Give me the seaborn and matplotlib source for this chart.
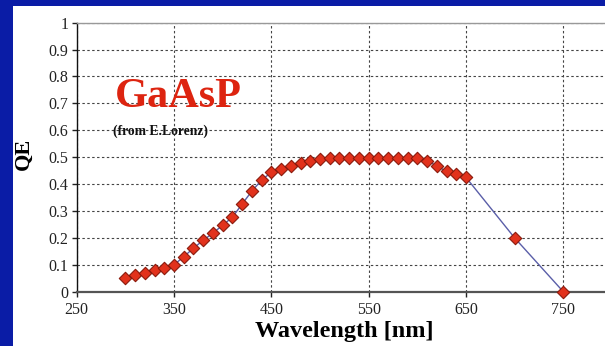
import matplotlib
matplotlib.use("Agg")
import matplotlib.pyplot as plt
from matplotlib.patches import Rectangle
import seaborn as sns
import pandas as pd

# Quantum efficiency of a GaAsP photocathode
wavelength_nm = [300, 310, 320, 330, 340, 350, 360, 370, 380, 390,
                 400, 410, 420, 430, 440, 450, 460, 470, 480, 490,
                 500, 510, 520, 530, 540, 550, 560, 570, 580, 590,
                 600, 610, 620, 630, 640, 650, 700, 750]
qe = [0.051, 0.061, 0.069, 0.082, 0.089, 0.100, 0.130, 0.162, 0.191, 0.218,
      0.247, 0.277, 0.326, 0.374, 0.415, 0.444, 0.455, 0.466, 0.477, 0.485,
      0.495, 0.498, 0.498, 0.498, 0.498, 0.498, 0.498, 0.498, 0.498, 0.498,
      0.497, 0.486, 0.468, 0.447, 0.437, 0.425, 0.200, 0.000]

x_ticks = [250, 350, 450, 550, 650, 750]
y_ticks = [0, 0.1, 0.2, 0.3, 0.4, 0.5, 0.6, 0.7, 0.8, 0.9, 1]
y_tick_labels = ["0", "0.1", "0.2", "0.3", "0.4", "0.5", "0.6", "0.7", "0.8", "0.9", "1"]

df = pd.DataFrame({"Wavelength": wavelength_nm, "QE": qe})

sns.set_theme(style="white")
plt.rcParams["font.family"] = ["Liberation Serif", "DejaVu Serif"]

W, H = 605, 346
fig = plt.figure(figsize=(W / 100, H / 100), dpi=100)
fig.patch.set_facecolor("#0a1ca6")
fig.patches.append(Rectangle((13 / W, 0), 1, (H - 6) / H, transform=fig.transFigure,
                             facecolor="white", edgecolor="none", zorder=-5))

ax_left, ax_right = 76.7, 605.0
ax_top, ax_bottom = 22.7, 291.7
ax = fig.add_axes([ax_left / W, (H - ax_bottom) / H,
                   (ax_right - ax_left) / W, (ax_bottom - ax_top) / H])
ax.set_facecolor("white")

sns.lineplot(data=df, x="Wavelength", y="QE", ax=ax, color="#5a5ea8",
             linewidth=1.0, zorder=3)
sns.scatterplot(data=df, x="Wavelength", y="QE", ax=ax, marker="D", s=40,
                color="#e2321c", edgecolor="#8a1a0c", linewidth=0.8, zorder=4,
                clip_on=False)

px_per_unit = (563.3 - 76.7) / 500.0
ax.set_xlim(250, 250 + (ax_right - ax_left) / px_per_unit)
ax.set_ylim(0, 1)
ax.set_xticks(x_ticks)
ax.set_yticks(y_ticks)
ax.set_yticklabels(y_tick_labels)

ax.grid(True, color="#444444", linestyle=(0, (2.2, 2.2)), linewidth=0.8)
ax.set_axisbelow(True)

ax.spines["right"].set_visible(False)
ax.spines["left"].set_color("#111111")
ax.spines["left"].set_linewidth(1.0)
ax.spines["bottom"].set_color("#555555")
ax.spines["bottom"].set_linewidth(1.6)
ax.spines["top"].set_color("#999999")
ax.spines["top"].set_linewidth(1.0)

ax.tick_params(axis="both", which="major", direction="out", length=3.5, width=1,
               colors="#222222", labelsize=11.5)
ax.tick_params(axis="y", pad=2.5)
ax.tick_params(axis="x", pad=4)
ax.tick_params(left=True, bottom=True)

ax.set_xlabel("Wavelength [nm]", fontsize=17.5, fontweight="bold", color="black")
ax.set_ylabel("QE", fontsize=16, fontweight="bold", color="black")
ax.xaxis.label.set_va("center")
ax.xaxis.set_label_coords((344 - ax_left) / (ax_right - ax_left),
                          (ax_bottom - 332) / (ax_bottom - ax_top))
ax.yaxis.label.set_va("center")
ax.yaxis.set_label_coords((24 - ax_left) / (ax_right - ax_left),
                          (ax_bottom - 154) / (ax_bottom - ax_top))

fig.text(115 / W, (H - 107) / H, "GaAsP", fontsize=30.5, fontweight="bold",
         color="#dd2410", ha="left", va="baseline")
fig.text(113 / W, (H - 135) / H, "(from E.Lorenz)", fontsize=9.8, fontweight="bold",
         color="#111111", ha="left", va="baseline")

fig.savefig("out.png", dpi=100, facecolor=fig.get_facecolor())
